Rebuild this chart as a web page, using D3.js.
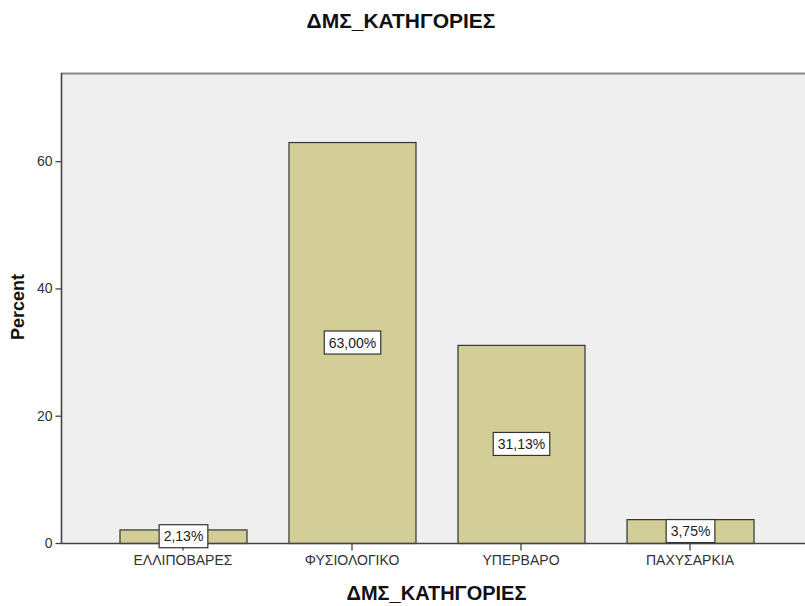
<!DOCTYPE html>
<html><head><meta charset="utf-8">
<script src="https://cdn.jsdelivr.net/npm/d3@7"></script>
<style>body{margin:0;background:#fff;} svg{display:block;}</style>
</head><body>
<svg id="chart" width="805" height="606"></svg>
<script>
const categories = ["ΕΛΛΙΠΟΒΑΡΕΣ", "ΦΥΣΙΟΛΟΓΙΚΟ", "ΥΠΕΡΒΑΡΟ", "ΠΑΧΥΣΑΡΚΙΑ"];
const percents = [2.13, 63.00, 31.13, 3.75];
const valueLabels = ["2,13%", "63,00%", "31,13%", "3,75%"];
const yTicks = [0, 20, 40, 60];
const chartTitle = "ΔΜΣ_ΚΑΤΗΓΟΡΙΕΣ";
const xTitle = "ΔΜΣ_ΚΑΤΗΓΟΡΙΕΣ";
const yTitle = "Percent";

(function() {
const svg = d3.select("#chart");
const font = "'Liberation Sans', Arial, sans-serif";
const pL = 61, pR = 812, pT = 73, pB = 543;

const x = d3.scaleBand().domain(categories).range([pL, pR]).paddingInner(0.2485).paddingOuter(0.346);
const y = d3.scaleLinear().domain([0, 73.85]).range([pB, pT]);

svg.append("rect").attr("x", pL).attr("y", pT).attr("width", pR - pL).attr("height", pB - pT)
  .attr("fill", "#efefef");
svg.append("line").attr("x1", pL).attr("x2", pR).attr("y1", pT + 0.5).attr("y2", pT + 0.5)
  .attr("stroke", "#8a8a8a").attr("stroke-width", 2);

svg.selectAll("rect.bar").data(categories).enter().append("rect").attr("class", "bar")
  .attr("x", d => x(d) + 0.5)
  .attr("y", (d, i) => y(percents[i]) + 0.5)
  .attr("width", x.bandwidth())
  .attr("height", (d, i) => y(0) - y(percents[i]))
  .attr("fill", "#d3ce97").attr("stroke", "#333").attr("stroke-width", 1.2);

const yAxis = d3.axisLeft(y).tickValues(yTicks).tickSize(6).tickPadding(3).tickFormat(d3.format("d"));
const gy = svg.append("g").attr("transform", `translate(${pL + 0.5},0)`).call(yAxis);
gy.select(".domain").attr("stroke", "#444").attr("stroke-width", 1.6).attr("d", `M0,${pT}V${pB}`);
gy.selectAll(".tick line").attr("stroke", "#444").attr("stroke-width", 1.3);
gy.selectAll(".tick text").attr("font-family", font).attr("font-size", 14).attr("fill", "#333");

const xAxis = d3.axisBottom(x).tickSize(7).tickPadding(5);
const gx = svg.append("g").attr("transform", `translate(0,${pB + 0.5})`).call(xAxis);
gx.select(".domain").attr("stroke", "#444").attr("stroke-width", 1.4).attr("d", `M${pL},0H${pR}`);
gx.selectAll(".tick line").attr("stroke", "#444").attr("stroke-width", 1.3);
gx.selectAll(".tick text").attr("font-family", font).attr("font-size", 14).attr("fill", "#333");

const lbl = svg.selectAll("g.lbl").data(categories).enter().append("g").attr("class", "lbl")
  .attr("transform", (d, i) => `translate(${x(d) + x.bandwidth() / 2 + 0.5},${(y(percents[i]) + y(0)) / 2})`);
lbl.append("text").attr("text-anchor", "middle").attr("dy", "0.36em")
  .attr("font-family", font).attr("font-size", 14).attr("fill", "#222")
  .text((d, i) => valueLabels[i]);
lbl.each(function() {
  const g = d3.select(this);
  const bb = g.select("text").node().getBBox();
  g.insert("rect", "text").attr("x", bb.x - 4.5).attr("y", -11.5).attr("width", bb.width + 9).attr("height", 23)
    .attr("fill", "#fff").attr("stroke", "#333").attr("stroke-width", 1.2);
});

svg.append("text").attr("x", 401).attr("y", 28).attr("text-anchor", "middle")
  .attr("font-family", font).attr("font-weight", "bold").attr("font-size", 21).attr("fill", "#111").text(chartTitle);
svg.append("text").attr("x", (pL + pR) / 2).attr("y", 600).attr("text-anchor", "middle")
  .attr("font-family", font).attr("font-weight", "bold").attr("font-size", 20).attr("fill", "#111").text(xTitle);
svg.append("text").attr("transform", `translate(24,307) rotate(-90)`).attr("text-anchor", "middle")
  .attr("font-family", font).attr("font-weight", "bold").attr("font-size", 18).attr("fill", "#111").text(yTitle);
})();
</script>
</body></html>
